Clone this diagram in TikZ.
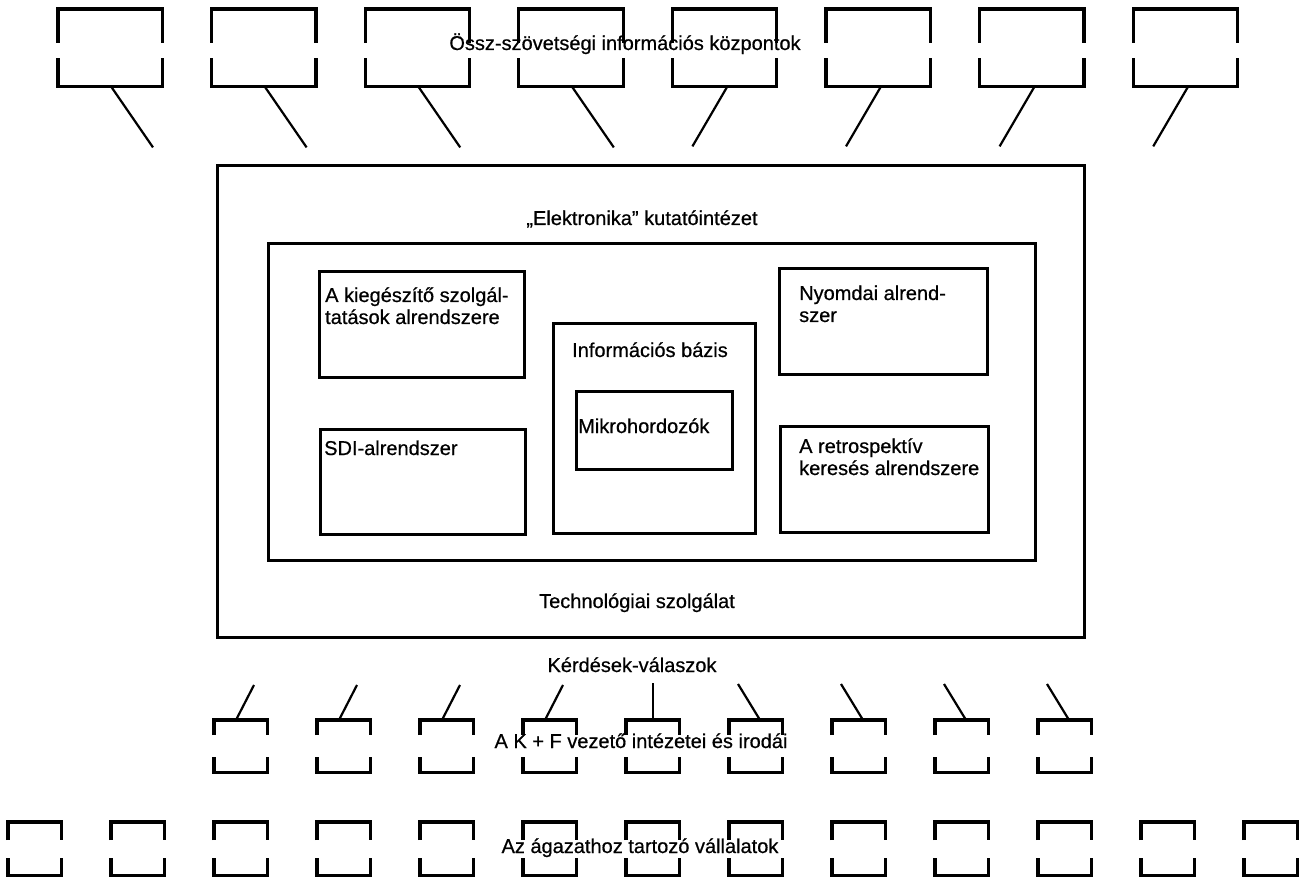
\documentclass[tikz,border=0pt]{standalone}
\usepackage{fontspec}
\setmainfont{Liberation Sans}[FakeBold=0.6]
\usetikzlibrary{calc}
\begin{document}
\begin{tikzpicture}[x=1pt,y=-1pt,
  lbl/.style={font=\fontsize{20}{22}\selectfont, inner sep=0pt, align=left},
  bx/.style={draw, line width=2.8pt, inner sep=0pt, anchor=north west},
  slot/.style={inner sep=0pt, anchor=north west},
  brk/.style={line width=3.2pt},
  conn/.style={line width=2.2pt}
]
\useasboundingbox (0,0) rectangle (1302,877);
\fill[white] (0,0) rectangle (1302,877);

% top row: all-union information centres
\foreach \i in {0,...,7} {
  \pgfmathsetmacro{\lx}{58+153.6*\i}
  \node[slot, minimum width=104pt, minimum height=77pt] (t\i) at (\lx,9) {};
  \draw[brk] ($(t\i.north west)+(0,34)$) -- (t\i.north west) -- (t\i.north east) -- ($(t\i.north east)+(0,34)$);
  \draw[brk] ($(t\i.south west)+(0,-28)$) -- (t\i.south west) -- (t\i.south east) -- ($(t\i.south east)+(0,-28)$);
}
\foreach \i in {0,...,3} {
  \coordinate (te\i) at ($(t\i.south west)+(95,61)$);
  \draw[conn] ($(t\i.south west)+(53,0)$) -- (te\i);
}
\foreach \i in {4,...,7} {
  \coordinate (te\i) at ($(t\i.south west)+(20,60)$);
  \draw[conn] ($(t\i.south west)+(55,0)$) -- (te\i);
}
\node[lbl, anchor=base] (topT) at (625,50) {Össz-szövetségi információs központok};

% main institute
\node[bx, line width=3.4pt, minimum width=867pt, minimum height=472pt] (main) at (216,164) {};
\node[lbl, anchor=base] (elT) at (642,225) {„Elektronika” kutatóintézet};
\node[bx, line width=3pt, minimum width=767pt, minimum height=317pt] (inner) at (267,242) {};
\node[lbl, anchor=base] (techT) at (637,608) {Technológiai szolgálat};

\node[bx, minimum width=205pt, minimum height=106pt] (kieg) at (318,270) {};
\node[lbl, anchor=base west] (kiegT) at (325,324) {A kiegészítő szolgál-\\tatások alrendszere};
\node[bx, minimum width=205pt, minimum height=105pt] (sdi) at (319,428) {};
\node[lbl, anchor=base west] (sdiT) at (324,455) {SDI-alrendszer};
\node[bx, minimum width=202pt, minimum height=210pt] (info) at (552,322) {};
\node[lbl, anchor=base west] (infoT) at (572,357) {Információs bázis};
\node[bx, minimum width=156pt, minimum height=78pt] (mikro) at (575,390) {};
\node[lbl, anchor=base west] (mikroT) at (578,433) {Mikrohordozók};
\node[bx, minimum width=208pt, minimum height=106pt] (nyom) at (778,267) {};
\node[lbl, anchor=base west] (nyomT) at (799,322) {Nyomdai alrend-\\szer};
\node[bx, minimum width=208pt, minimum height=106pt] (retro) at (779,425) {};
\node[lbl, anchor=base west] (retroT) at (799,475) {A retrospektív\\keresés alrendszere};

\node[lbl, anchor=base] (kerT) at (632,672) {Kérdések-válaszok};

% middle row: leading R&D institutes and offices
\foreach \i in {2,...,10} {
  \pgfmathsetmacro{\lx}{8+103*\i}
  \node[slot, minimum width=53pt, minimum height=52pt] (m\i) at (\lx,720) {};
  \draw[brk] ($(m\i.north west)+(0,15)$) -- (m\i.north west) -- (m\i.north east) -- ($(m\i.north east)+(0,15)$);
  \draw[brk] ($(m\i.south west)+(0,-15)$) -- (m\i.south west) -- (m\i.south east) -- ($(m\i.south east)+(0,-15)$);
}
\foreach \i in {2,...,5} {
  \coordinate (me\i) at ($(m\i.north west)+(40,-35)$);
  \draw[conn] ($(m\i.north west)+(22,0)$) -- (me\i);
}
\coordinate (me6) at ($(m6.north west)+(27,-37)$);
\draw[conn] ($(m6.north west)+(27,0)$) -- (me6);
\foreach \i in {7,...,10} {
  \coordinate (me\i) at ($(m\i.north west)+(9,-36)$);
  \draw[conn] ($(m\i.north west)+(31,0)$) -- (me\i);
}
\node[lbl, anchor=base] (kfT) at (641,748) {A K + F vezető intézetei és irodái};

% bottom row: enterprises of the branch
\foreach \i in {0,...,12} {
  \pgfmathsetmacro{\lx}{8+103*\i}
  \node[slot, minimum width=53pt, minimum height=53pt] (b\i) at (\lx,822) {};
  \draw[brk] ($(b\i.north west)+(0,18)$) -- (b\i.north west) -- (b\i.north east) -- ($(b\i.north east)+(0,18)$);
  \draw[brk] ($(b\i.south west)+(0,-17)$) -- (b\i.south west) -- (b\i.south east) -- ($(b\i.south east)+(0,-17)$);
}
\node[lbl, anchor=base] (agT) at (640,853) {Az ágazathoz tartozó vállalatok};
\end{tikzpicture}
\end{document}
